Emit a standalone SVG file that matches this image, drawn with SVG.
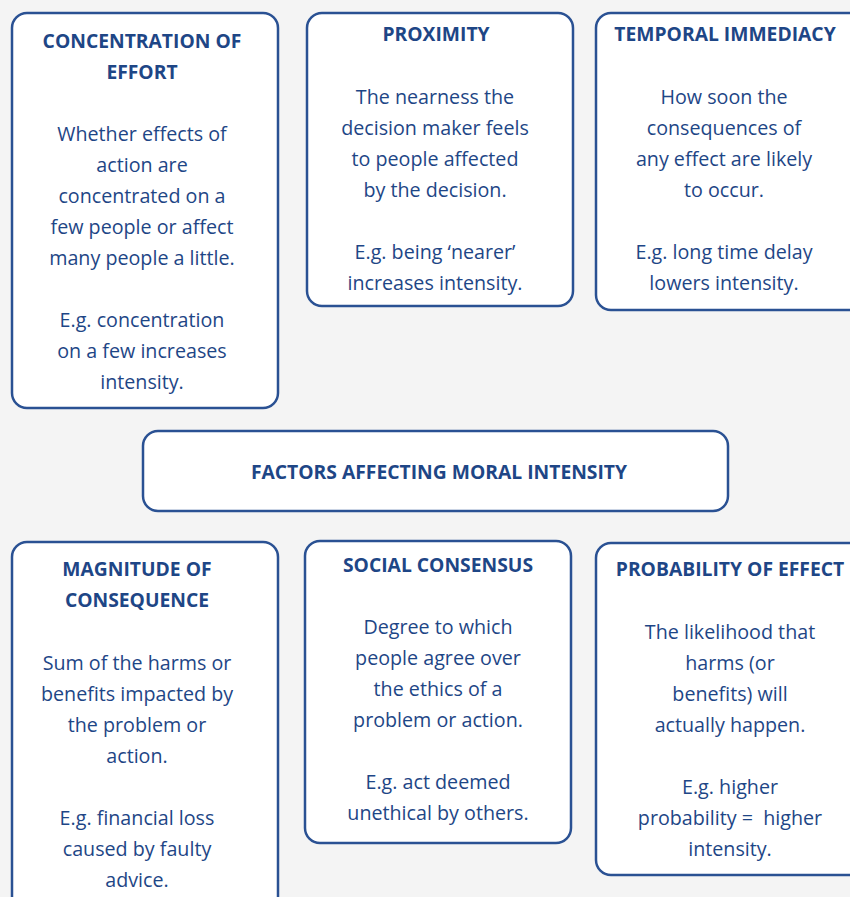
<svg xmlns="http://www.w3.org/2000/svg" width="850" height="897" viewBox="0 0 850 897">
<style>
.bg{fill:#f4f4f4}
.box{fill:#ffffff;stroke:#2a5193;stroke-width:2.5}
text{font-family:"Open Sans","Noto Sans",sans-serif;fill:#1e4686;text-anchor:middle}
.h{font-size:19.3px;font-weight:bold}
.b{font-size:19.7px}
</style>
<rect class="bg" x="0" y="0" width="850" height="897"/>
<g id="concentration">
<rect class="box" x="12" y="13" width="266" height="395" rx="15"/>
<text class="h" x="142" y="48">CONCENTRATION OF</text>
<text class="h" x="142" y="79">EFFORT</text>
<text class="b" x="142" y="141">Whether effects of</text>
<text class="b" x="142" y="172">action are</text>
<text class="b" x="142" y="203">concentrated on a</text>
<text class="b" x="142" y="234">few people or affect</text>
<text class="b" x="142" y="265">many people a little.</text>
<text class="b" x="142" y="327">E.g. concentration</text>
<text class="b" x="142" y="358">on a few increases</text>
<text class="b" x="142" y="389">intensity.</text>
</g>
<g id="proximity">
<rect class="box" x="307" y="13" width="266" height="293" rx="15"/>
<text class="h" x="436" y="41">PROXIMITY</text>
<text class="b" x="435" y="104">The nearness the</text>
<text class="b" x="435" y="135">decision maker feels</text>
<text class="b" x="435" y="166">to people affected</text>
<text class="b" x="435" y="197">by the decision.</text>
<text class="b" x="435" y="259">E.g. being ‘nearer’</text>
<text class="b" x="435" y="290">increases intensity.</text>
</g>
<g id="temporal">
<rect class="box" x="596" y="13" width="268" height="297" rx="15"/>
<text class="h" x="725" y="41">TEMPORAL IMMEDIACY</text>
<text class="b" x="724" y="104">How soon the</text>
<text class="b" x="724" y="135">consequences of</text>
<text class="b" x="724" y="166">any effect are likely</text>
<text class="b" x="724" y="197">to occur.</text>
<text class="b" x="724" y="259">E.g. long time delay</text>
<text class="b" x="724" y="290">lowers intensity.</text>
</g>
<g id="factors">
<rect class="box" x="143" y="431" width="585" height="80" rx="15"/>
<text class="h" x="439" y="479">FACTORS AFFECTING MORAL INTENSITY</text>
</g>
<g id="magnitude">
<rect class="box" x="12" y="542" width="266" height="370" rx="15"/>
<text class="h" x="137" y="576">MAGNITUDE OF</text>
<text class="h" x="137" y="607">CONSEQUENCE</text>
<text class="b" x="137" y="670">Sum of the harms or</text>
<text class="b" x="137" y="701">benefits impacted by</text>
<text class="b" x="137" y="732">the problem or</text>
<text class="b" x="137" y="763">action.</text>
<text class="b" x="137" y="825">E.g. financial loss</text>
<text class="b" x="137" y="856">caused by faulty</text>
<text class="b" x="137" y="887">advice.</text>
</g>
<g id="consensus">
<rect class="box" x="305" y="541" width="266" height="302" rx="15"/>
<text class="h" x="438" y="572">SOCIAL CONSENSUS</text>
<text class="b" x="438" y="634">Degree to which</text>
<text class="b" x="438" y="665">people agree over</text>
<text class="b" x="438" y="696">the ethics of a</text>
<text class="b" x="438" y="727">problem or action.</text>
<text class="b" x="438" y="789">E.g. act deemed</text>
<text class="b" x="438" y="820">unethical by others.</text>
</g>
<g id="probability">
<rect class="box" x="596" y="543" width="268" height="332" rx="15"/>
<text class="h" x="730" y="576">PROBABILITY OF EFFECT</text>
<text class="b" x="730" y="639">The likelihood that</text>
<text class="b" x="730" y="670">harms (or</text>
<text class="b" x="730" y="701">benefits) will</text>
<text class="b" x="730" y="732">actually happen.</text>
<text class="b" x="730" y="794">E.g. higher</text>
<text class="b" x="730" y="825">probability =&#160; higher</text>
<text class="b" x="730" y="856">intensity.</text>
</g>
<g id="connectors"></g>
</svg>
